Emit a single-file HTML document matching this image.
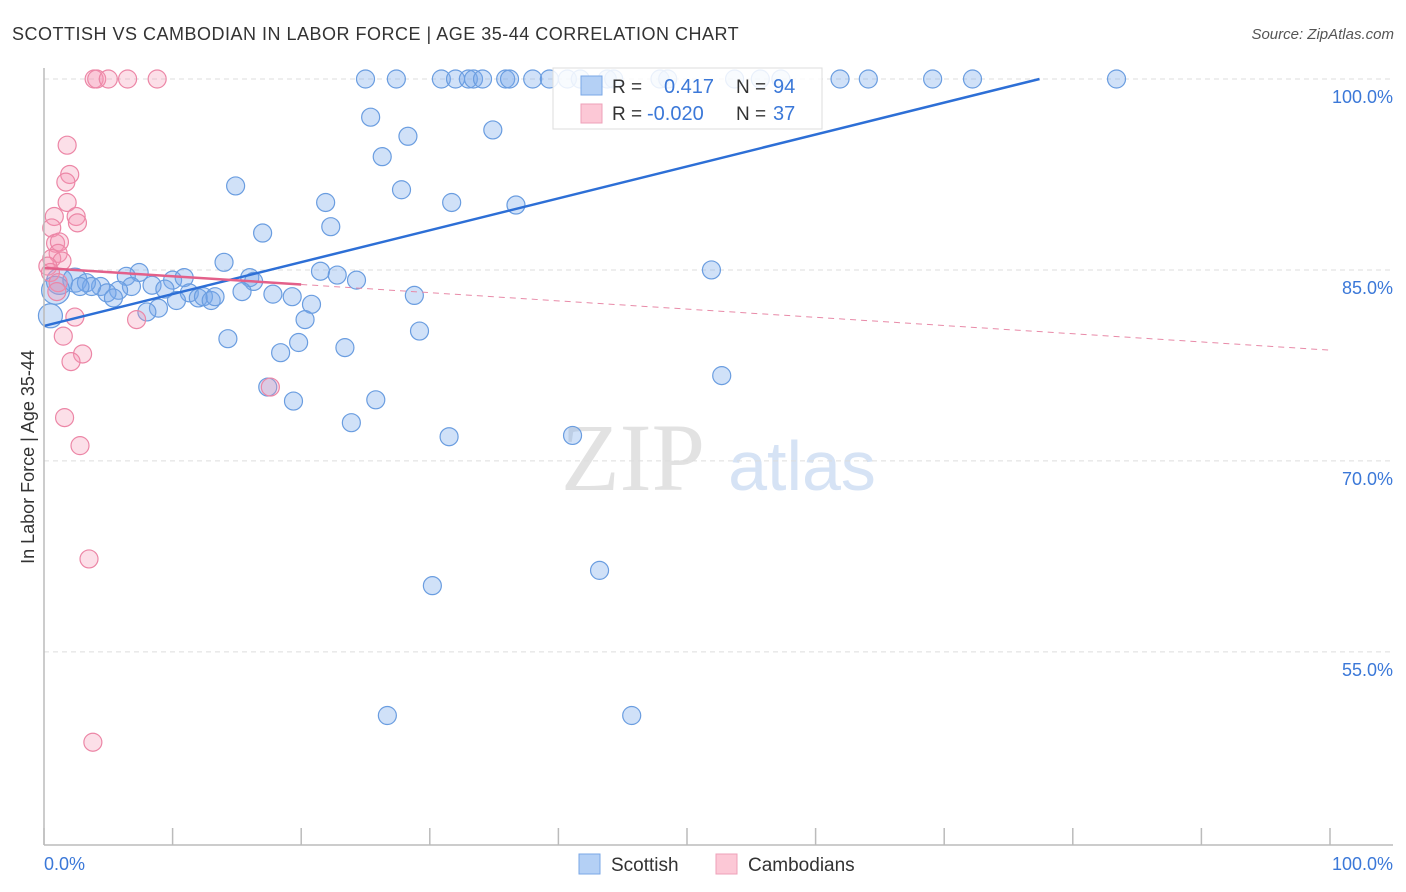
<!DOCTYPE html>
<html><head><meta charset="utf-8"><style>
body{margin:0;background:#fff;font-family:"Liberation Sans",sans-serif;}
#c{position:relative;width:1406px;height:892px;overflow:hidden;}
</style></head><body>
<div id="c">
<svg id="s" width="1406" height="892" xmlns="http://www.w3.org/2000/svg" style="position:absolute;left:0;top:0">
<text x="12" y="40" font-size="18" fill="#333" letter-spacing="0.5">SCOTTISH VS CAMBODIAN IN LABOR FORCE | AGE 35-44 CORRELATION CHART</text>
<text x="1394" y="39" font-size="15" fill="#555" font-style="italic" text-anchor="end">Source: ZipAtlas.com</text>
<text x="633" y="490" font-size="96" fill="#e2e2e2" font-family="Liberation Serif,serif" text-anchor="middle">ZIP</text>
<text x="802" y="490" font-size="70" fill="#d6e3f5" text-anchor="middle">atlas</text>
<g id="grid"></g><g id="marks"></g><g id="lines"></g>
<line x1="44" y1="68" x2="44" y2="845" stroke="#bbb" stroke-width="1.5"/>
<line x1="44" y1="845" x2="1393" y2="845" stroke="#bbb" stroke-width="1.5"/>
<g id="ticks"></g>
<text x="44" y="870" font-size="18" fill="#3b78d8">0.0%</text>
<text x="1393" y="870" font-size="18" fill="#3b78d8" text-anchor="end">100.0%</text>
<text x="34" y="457" font-size="18" fill="#333" text-anchor="middle" transform="rotate(-90 34 457)">In Labor Force | Age 35-44</text>
<g>
<rect x="553" y="68" width="269" height="61" fill="#fff" fill-opacity="0.85" stroke="#ddd"/>
<rect x="581" y="76" width="21" height="19" fill="#b4d0f5" stroke="#7aa7e6"/>
<rect x="581" y="104" width="21" height="19" fill="#fcc8d6" stroke="#eea0b8"/>
<text x="612" y="93" font-size="19" fill="#333">R =</text><text x="664" y="93" font-size="20" fill="#3b78d8">0.417</text>
<text x="736" y="93" font-size="19" fill="#333">N =</text><text x="773" y="93" font-size="20" fill="#3b78d8">94</text>
<text x="612" y="120" font-size="19" fill="#333">R =</text><text x="647" y="120" font-size="20" fill="#3b78d8">-0.020</text>
<text x="736" y="120" font-size="19" fill="#333">N =</text><text x="773" y="120" font-size="20" fill="#3b78d8">37</text>
</g>
<g><rect x="579" y="854" width="21" height="20" fill="#b4d0f5" stroke="#7aa7e6"/><text x="611" y="871" font-size="19" fill="#333">Scottish</text></g>
<g><rect x="716" y="854" width="21" height="20" fill="#fcc8d6" stroke="#eea0b8"/><text x="748" y="871" font-size="19" fill="#333">Cambodians</text></g>
</svg>
</div>
<script>
const yTicks=[100,85,70,55];
const blueX=[25.0,27.4,30.9,32.0,33.0,33.4,34.1,35.9,36.2,38.0,39.3,40.7,41.7,43.8,44.3,47.9,48.5,53.7,55.7,57.3,61.9,64.1,69.1,72.2,83.4,
25.4,28.3,34.9,26.3,14.9,27.8,21.9,31.7,36.7,22.3,17.0,14.0,21.5,22.8,24.3,51.9,16.0,16.3,7.4,6.4,10.0,10.9,8.4,6.8,9.4,5.8,4.4,4.9,5.4,11.3,12.0,12.4,13.0,13.3,10.3,15.4,17.8,19.3,20.8,8.9,8.0,28.8,20.3,29.2,14.3,19.8,18.4,23.4,52.7,17.4,19.4,25.8,23.9,31.5,41.1,43.2,30.2,26.7,45.7,
1.2,2.4,3.3,0.9,0.5,3.7,2.8];
const blueY=[100,100,100,100,100,100,100,100,100,100,100,100,100,100,100,100,100,100,100,100,100,100,100,100,100,
97.0,95.5,96.0,93.9,91.6,91.3,90.3,90.3,90.1,88.4,87.9,85.6,84.9,84.6,84.2,85.0,84.4,84.1,84.8,84.5,84.2,84.4,83.8,83.7,83.5,83.4,83.7,83.2,82.8,83.2,82.8,82.9,82.6,82.9,82.6,83.3,83.1,82.9,82.3,82.0,81.7,83.0,81.1,80.2,79.6,79.3,78.5,78.9,76.7,75.8,74.7,74.8,73.0,71.9,72.0,61.4,60.2,50.0,50.0,
84.1,84.2,84.0,83.4,81.4,83.7,83.7];
const pinkX=[3.9,4.1,5.0,6.5,8.8,1.8,2.0,1.7,1.8,0.8,2.5,2.6,0.6,0.9,1.2,1.1,0.6,1.4,0.3,0.5,1.1,1.0,2.4,7.2,1.5,3.0,2.1,17.6,1.6,2.8,3.5,3.8];
const pinkY=[100,100,100,100,100,94.8,92.5,91.9,90.3,89.2,89.2,88.7,88.3,87.1,87.2,86.3,85.9,85.7,85.3,84.8,84.0,83.3,81.3,81.1,79.8,78.4,77.8,75.8,73.4,71.2,62.3,47.9];
const blueFit=[80.6,0.2506];
const pinkFit=[85.15,-0.0645];
const X0=44,X1=1330,Y100=79,PX=12.73;
const sx=v=>X0+(X1-X0)*v/100;
const sy=v=>Y100+(100-v)*PX;
const NS='http://www.w3.org/2000/svg';
function mk(t,a,p){const e=document.createElementNS(NS,t);for(const k in a)e.setAttribute(k,a[k]);p.appendChild(e);return e;}
const grid=document.getElementById('grid'),svg=document.getElementById('s');
yTicks.forEach(v=>{
const l=mk('line',{x1:44,x2:1393,y1:sy(v),y2:sy(v),stroke:'#ddd','stroke-dasharray':'5,4'},grid);


const t=mk('text',{x:1393,y:sy(v)+24,'font-size':18,fill:'#3b78d8','text-anchor':'end'},svg);
t.textContent=v.toFixed(1)+'%';


});
const ticks=document.getElementById('ticks');
for(let k=0;k<=10;k++){
const t=mk('line',{x1:sx(k*10),x2:sx(k*10),y1:828,y2:845,stroke:'#bbb','stroke-width':1.5},ticks);


}
const marks=document.getElementById('marks');
const big={84:13,85:12,87:14,88:12};
blueX.forEach((x,i)=>{
const c=mk('circle',{cx:sx(x),cy:sy(blueY[i]),r:big[i]||9,fill:'rgba(120,170,235,0.35)',stroke:'#6a9de0','stroke-width':1.2},marks);


});
pinkX.forEach((x,i)=>{
const c=mk('circle',{cx:sx(x),cy:sy(pinkY[i]),r:9,fill:'rgba(245,150,180,0.3)',stroke:'#ec86a6','stroke-width':1.2},marks);


});
const lines=document.getElementById('lines');
const bxEnd=Math.min(100,(100-blueFit[0])/blueFit[1]);
const bl=mk('line',{x1:sx(0),y1:sy(blueFit[0]),x2:sx(bxEnd),y2:sy(blueFit[0]+blueFit[1]*bxEnd),stroke:'#2d6fd6','stroke-width':2.5},lines);


const pl=mk('line',{x1:sx(0),y1:sy(pinkFit[0]),x2:sx(20),y2:sy(pinkFit[0]+pinkFit[1]*20),stroke:'#e3608a','stroke-width':2.5},lines);


const pd=mk('line',{x1:sx(20),y1:sy(pinkFit[0]+pinkFit[1]*20),x2:sx(100),y2:sy(pinkFit[0]+pinkFit[1]*100),stroke:'#e88aa8','stroke-width':1,'stroke-dasharray':'6,5'},lines);


</script>
</body></html>
